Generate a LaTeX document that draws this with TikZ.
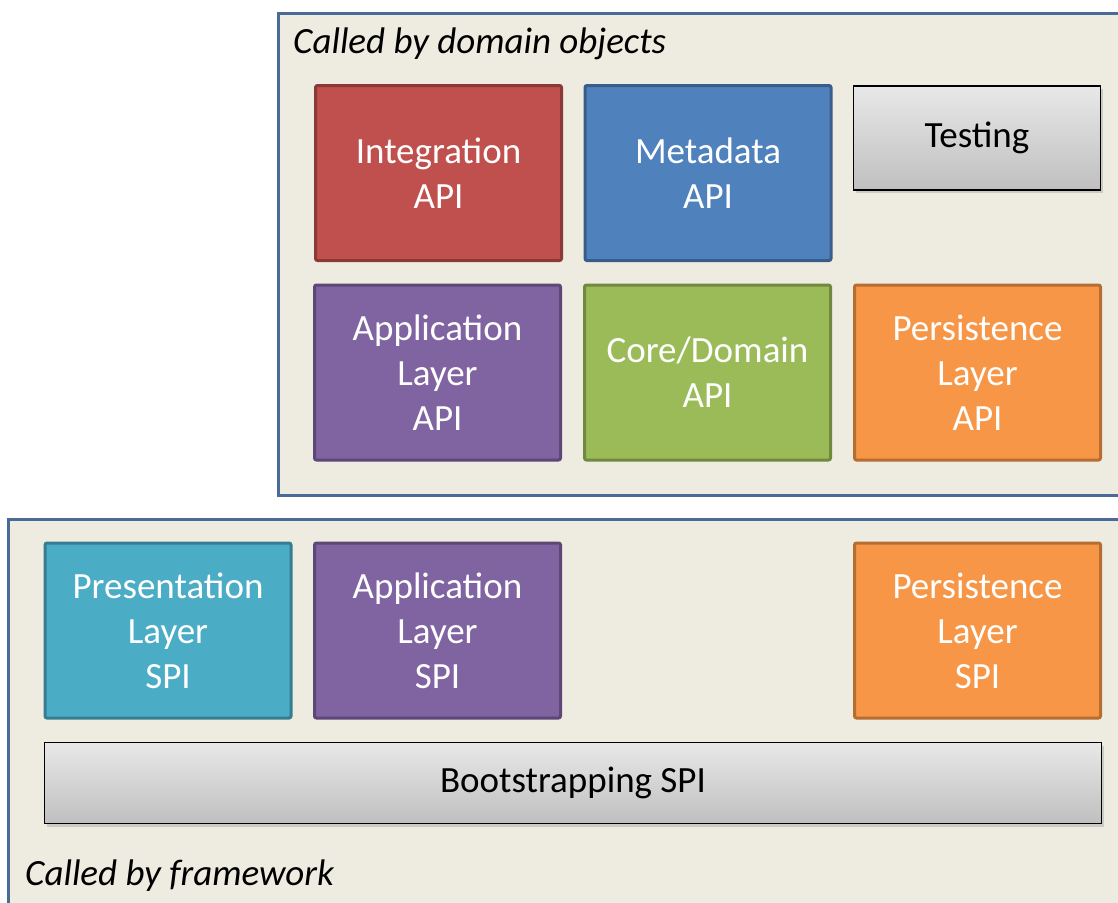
\documentclass[tikz,border=0pt]{standalone}
\usepackage{fontspec}
\setmainfont{Carlito}
\usetikzlibrary{shadows}

\definecolor{panelfill}{HTML}{EEEBE0}
\definecolor{panelline}{HTML}{4A6A98}
\definecolor{redfill}{HTML}{C0504D}
\definecolor{redline}{HTML}{8C3836}
\definecolor{bluefill}{HTML}{4F81BD}
\definecolor{blueline}{HTML}{385D8A}
\definecolor{purplefill}{HTML}{8064A2}
\definecolor{purpleline}{HTML}{5C4776}
\definecolor{greenfill}{HTML}{9BBB59}
\definecolor{greenline}{HTML}{71893F}
\definecolor{orangefill}{HTML}{F79646}
\definecolor{orangeline}{HTML}{B66D31}
\definecolor{tealfill}{HTML}{4BACC6}
\definecolor{tealline}{HTML}{357D91}

\tikzset{
  panel/.style={draw=panelline, fill=panelfill, line width=3pt},
  caption/.style={anchor=west, inner sep=0pt, font=\fontsize{37}{45}\selectfont\itshape},
  layer/.style 2 args={draw=#2, fill=#1, line width=3pt, rounded corners=2pt,
    text=white, align=center, minimum width=246pt, minimum height=175pt,
    inner sep=0pt, font=\fontsize{37}{45}\selectfont},
  graybox/.style={draw=black, line width=1.5pt, top color=black!9, bottom color=black!25,
    drop shadow={shadow xshift=2pt, shadow yshift=-3pt, opacity=0.3},
    align=center, minimum height=104pt, inner sep=0pt, font=\fontsize{37}{45}\selectfont}
}

\begin{document}
\begin{tikzpicture}[x=1pt,y=-1pt]
    \useasboundingbox (0,0) rectangle (1118,902);
    % the two panels
    \draw[panel] (278,13) rectangle (1130,495);
    \draw[panel] (8,519) rectangle (1130,910);
    \node[caption] (domaincap) at (293,44) {Called by domain objects};
    \node[caption] (frameworkcap) at (25,876) {Called by framework};

    % API, called by domain objects
    \node[layer={redfill}{redline}] (integration) at (438.5,173) {Integration\\API};
    \node[layer={bluefill}{blueline}] (metadata) at (708,173) {Metadata\\API};
    \node[graybox, minimum width=247pt] (testing) at (977,138) {Testing};
    \node[layer={purplefill}{purpleline}] (appapi) at (437.5,372.5) {Application\\Layer\\API};
    \node[layer={greenfill}{greenline}] (coreapi) at (707.5,372.5) {Core/Domain\\API};
    \node[layer={orangefill}{orangeline}] (persistapi) at (977.5,372.5) {Persistence\\Layer\\API};

    % SPI, called by framework
    \node[layer={tealfill}{tealline}] (presspi) at (168,630.5) {Presentation\\Layer\\SPI};
    \node[layer={purplefill}{purpleline}] (appspi) at (437.5,630.5) {Application\\Layer\\SPI};
    \node[layer={orangefill}{orangeline}] (persistspi) at (977.5,630.5) {Persistence\\Layer\\SPI};
    \node[graybox, minimum width=1057pt, minimum height=81pt] (bootstrap) at (573,783) {Bootstrapping SPI};
\end{tikzpicture}
\end{document}
